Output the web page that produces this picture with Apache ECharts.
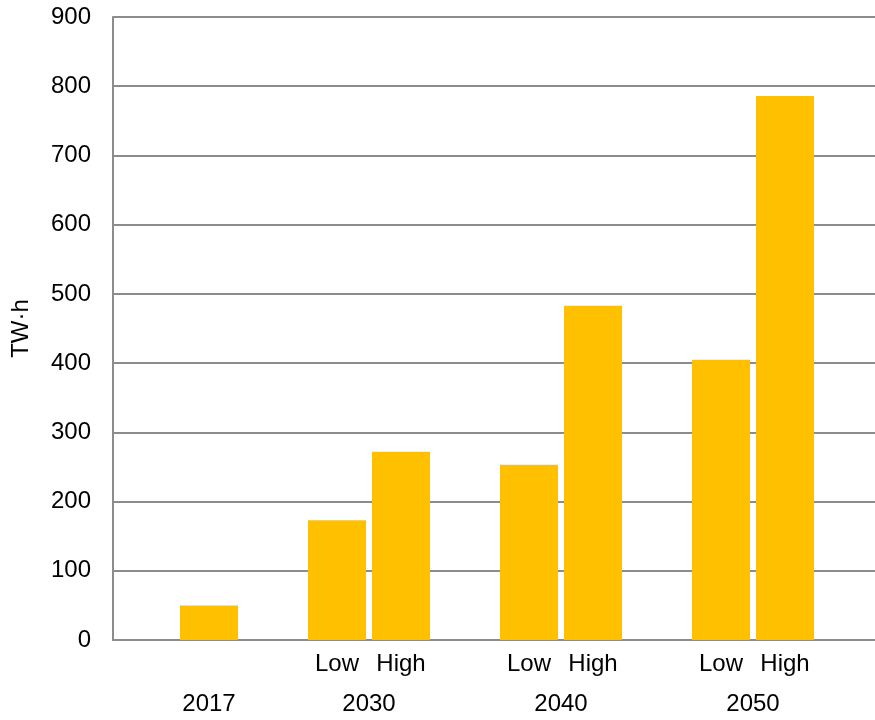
<!DOCTYPE html>
<html>
<head>
<meta charset="utf-8">
<script src="https://cdn.jsdelivr.net/npm/echarts@6/dist/echarts.min.js"></script>
<style>
  html, body { margin: 0; padding: 0; background: #fff; }
  #chart { width: 875px; height: 720px; }
</style>
</head>
<body>
<div id="chart"></div>
<script>
// slots along the x axis (empty slots are spacing between groups)
var slots = ['', '2017', '', 'Low', 'High', '', 'Low', 'High', '', 'Low', 'High', ''];
var values = [null, 50, null, 173, 272, null, 253, 483, null, 405, 786, null];
// year labels, placed on a 0..12 value axis matching the slots
var yearPos = [1.5, 4, 7, 10];
var yearLabels = ['2017', '2030', '2040', '2050'];
var yTicks = [0, 100, 200, 300, 400, 500, 600, 700, 800, 900];

var chart = echarts.init(document.getElementById('chart'));
var font = 'Liberation Sans, Arial, sans-serif';
var gray = '#8c8c8c';
var fs = 24;

var option = {
  animation: false,
  grid: { left: 113, width: 768, top: 17, height: 623, outerBoundsMode: 'none', containLabel: false },
  xAxis: [
    {
      type: 'category',
      data: slots,
      axisLine: { lineStyle: { color: gray, width: 2 } },
      axisTick: { show: false },
      axisLabel: {
        interval: 0,
        margin: 12,
        fontFamily: font, fontSize: fs, color: '#000',
        formatter: function (v) { return v === 'Low' || v === 'High' ? v : ''; }
      }
    },
    {
      type: 'value',
      position: 'bottom',
      offset: 40,
      min: 0, max: 12, interval: 0.5,
      axisLine: { show: false },
      axisTick: { show: false },
      splitLine: { show: false },
      axisLabel: {
        margin: 12,
        fontFamily: font, fontSize: fs, color: '#000',
        formatter: function (v) {
          var i = yearPos.indexOf(v);
          return i >= 0 ? yearLabels[i] : '';
        }
      }
    }
  ],
  yAxis: {
    type: 'value',
    min: yTicks[0], max: yTicks[yTicks.length - 1], interval: 100,
    name: 'TW·h',
    nameLocation: 'middle',
    nameGap: 80,
    nameTextStyle: { fontFamily: font, fontSize: fs, color: '#000' },
    axisLine: { show: true, lineStyle: { color: gray, width: 2 } },
    axisTick: { show: false },
    splitLine: { lineStyle: { color: gray, width: 2 } },
    axisLabel: { margin: 22, fontFamily: font, fontSize: fs, color: '#000' }
  },
  series: [
    {
      type: 'bar',
      xAxisIndex: 0,
      data: values,
      barWidth: 58,
      itemStyle: { color: '#FFC000' }
    }
  ]
};
chart.setOption(option);
</script>
</body>
</html>
